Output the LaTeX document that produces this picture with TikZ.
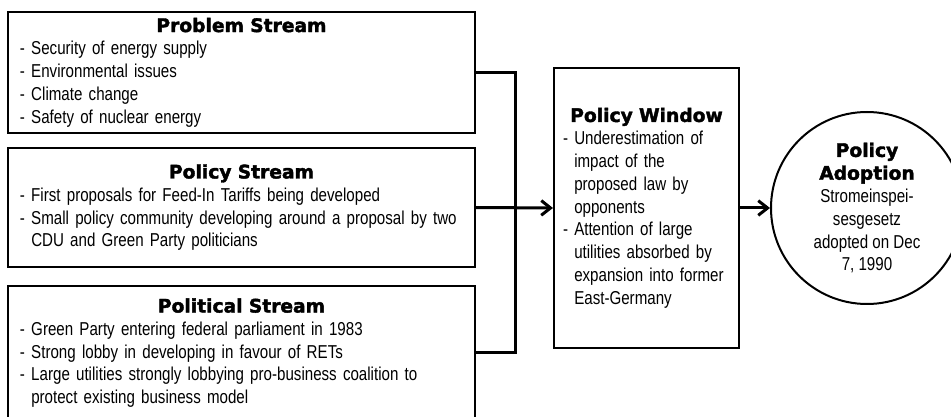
\documentclass[tikz,border=0pt]{standalone}
\usepackage{fontspec}
\setmainfont{Liberation Sans}[FakeStretch=0.81]
\newfontfamily\titlefont{DejaVu Sans}[BoldFeatures={FakeBold=2}]
\usetikzlibrary{arrows.meta}
\newcommand{\ttl}[1]{{\titlefont\bfseries\fontsize{14}{17.1}\selectfont #1}}
\newcommand{\ind}{\hphantom{-\ }}
\begin{document}
\begin{tikzpicture}[x=0.75pt,y=-0.75pt,
  box/.style={draw, line width=1.5pt, rectangle, inner ysep=0pt,
    font=\fontsize{14}{17.1}\selectfont},
  stream/.style={box, inner xsep=9pt, text width=332.25pt, minimum width=350.25pt},
  winbox/.style={box, inner xsep=6.75pt, text width=125.25pt, minimum width=138.75pt, minimum height=210pt},
  adopt/.style={draw, circle, line width=1.5pt, inner sep=0pt, minimum size=144pt, align=center,
    font=\fontsize{14}{17.1}\selectfont},
  conn/.style={line width=2.25pt, line join=miter},
  arr/.style={conn, -{Straight Barb[length=7pt,width=11pt]}}]
\useasboundingbox (0,0) rectangle (951,417);
\clip (0,0) rectangle (951,417);

\node[stream, minimum height=90.75pt] (problem) at (241.5,72.5)
 {{\centering\ttl{Problem Stream}\par}\raggedright
  \mbox{- Security of energy supply}\par
  \mbox{- Environmental issues}\par
  \mbox{- Climate change}\par
  \mbox{- Safety of nuclear energy}\par};

\node[stream, minimum height=89.25pt] (policy) at (241.5,207.5)
 {{\centering\ttl{Policy Stream}\par}\raggedright
  \mbox{- First proposals for Feed-In Tariffs being developed}\par
  \mbox{- Small policy community developing around a proposal by two}\\
  \mbox{\ind CDU and Green Party politicians}\par};

\node[stream, minimum height=100.5pt] (political) at (241.5,353)
 {{\centering\ttl{Political Stream}\par}\raggedright
  \mbox{- Green Party entering federal parliament in 1983}\par
  \mbox{- Strong lobby in developing in favour of RETs}\par
  \mbox{- Large utilities strongly lobbying pro-business coalition to}\\
  \mbox{\ind protect existing business model}\par};

\node[winbox] (window) at (646.5,208)
 {{\centering\ttl{Policy Window}\par}\raggedright
  \mbox{- Underestimation of}\\
  \mbox{\ind impact of the}\\
  \mbox{\ind proposed law by}\\
  \mbox{\ind opponents}\par
  \mbox{- Attention of large}\\
  \mbox{\ind utilities absorbed by}\\
  \mbox{\ind expansion into former}\\
  \mbox{\ind East-Germany}\par};

\node[adopt] (adoption) at (867,208)
 {\ttl{Policy}\\\ttl{Adoption}\\Stromeinspei-\\sesgesetz\\adopted on Dec\\7, 1990};

\coordinate (jtop) at (515,72.5);
\coordinate (jbot) at (515,353);
\draw[conn] (problem.east) -- (jtop) -- (jbot) -- (political.east);
\draw[arr] (policy.east) -- (window.west);
\draw[arr] (window.east) -- (adoption.west);
\end{tikzpicture}
\end{document}
